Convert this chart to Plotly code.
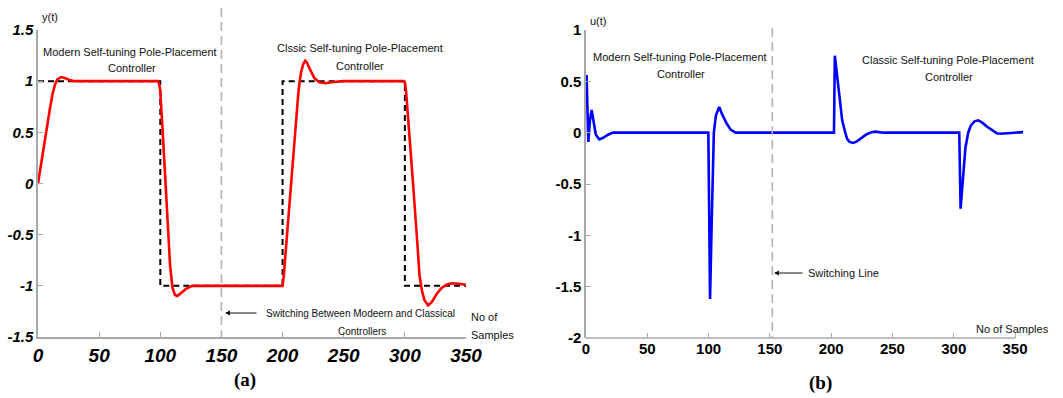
import plotly.graph_objects as go

W, H = 1063, 398

# ---------------- data ----------------
# reference signal r(t) (black dashed), panel (a)
REF_T = [0, 100, 100, 200, 200, 300, 300, 350]
REF_Y = [1, 1, -1, -1, 1, 1, -1, -1]

# plant output y(t) (red), panel (a)
Y_T = [0, 2, 4, 6, 8, 10, 12, 14, 16, 19, 22, 26, 30, 60, 98,
       99, 100, 102, 104, 106, 108, 110, 112, 114, 117, 121, 126, 130, 170, 200,
       201, 204, 207, 210, 213, 215, 217, 218.5, 220, 223, 226, 230, 235, 240, 250, 299,
       300, 301, 304, 307, 310, 312, 314, 316, 319, 322, 326, 330, 334, 338, 344, 350]
Y_V = [0, 0.15, 0.33, 0.47, 0.6, 0.75, 0.88, 0.97, 1.02, 1.04, 1.03, 1.01, 1.0, 1.0, 1.0,
       0.98, 0.9, 0.5, 0.05, -0.4, -0.8, -1.02, -1.09, -1.1, -1.07, -1.03, -1.0, -1.0, -1.0, -1.0,
       -0.9, -0.45, 0.0, 0.45, 0.9, 1.08, 1.17, 1.2, 1.18, 1.1, 1.03, 0.99, 0.98, 0.99, 1.0, 1.0,
       0.99, 0.9, 0.45, -0.05, -0.55, -0.9, -1.05, -1.14, -1.19, -1.16, -1.08, -1.02, -0.99, -0.975, -0.98, -0.99]

# control signal u(t) (blue), panel (b)
U_T = [0, 0.5, 1.9, 3.2, 4.6, 6, 8, 10.9, 14, 18, 22, 60, 99.8,
       100.5, 101.2, 102.5, 104.3, 106, 108.7, 111, 114.7, 118, 122, 160, 202.3,
       203, 205, 207, 209, 211.3, 213, 215, 218, 221, 225, 229, 233, 236, 243, 280, 304.5,
       305.6, 307.5, 309.5, 311.8, 314, 317, 320, 323, 327, 332, 335, 337.7, 343, 348, 352, 356.7]
U_V = [0.55, 0.55, -0.09, 0.12, 0.22, 0.12, -0.02, -0.065, -0.05, -0.02, 0.0, 0.0, 0.0,
       -0.8, -1.62, -0.9, 0.0, 0.17, 0.25, 0.18, 0.09, 0.03, 0.0, 0.0, 0.0,
       0.75, 0.55, 0.3, 0.12, 0.01, -0.06, -0.09, -0.10, -0.085, -0.05, -0.015, 0.005, 0.01, 0.0, 0.0, 0.0,
       -0.74, -0.45, -0.15, 0.0, 0.07, 0.11, 0.12, 0.1, 0.06, 0.02, -0.005, -0.01, -0.005, 0.0, 0.005, 0.005]

X_TICKS = [0, 50, 100, 150, 200, 250, 300, 350]
Y_TICKS_A = [-1.5, -1, -0.5, 0, 0.5, 1, 1.5]
Y_TICKTEXT_A = ["-1.5", "-1", "-0.5", "0", "0.5", "1", "1.5"]
Y_TICKS_B = [-2, -1.5, -1, -0.5, 0, 0.5, 1]
Y_TICKTEXT_B = ["-2", "-1.5", "-1", "-0.5", "0", "0.5", "1"]
SWITCH_A = 150
SWITCH_B = 152

# ---------------- layout helpers ----------------
def px(x):
    return x / W

def py(y):
    return 1 - y / H

AX_A = (38, 466, 337, 30)      # left, right, bottom, top (pixels)
AX_B = (586, 1023.6, 338, 30)
RANGE_A = [0, 350]
RANGE_B = [0, 357]

def data_to_px(v, ax, rng):
    return ax[0] + (v - rng[0]) / (rng[1] - rng[0]) * (ax[1] - ax[0])

SANS = "Liberation Sans, Arial, sans-serif"
SERIF = "Liberation Serif, Times New Roman, serif"
AXIS_GRAY = "#a8a8a8"

fig = go.Figure()
fig.add_trace(go.Scatter(x=REF_T, y=REF_Y, mode="lines", xaxis="x", yaxis="y",
                         line=dict(color="black", width=2, dash="6px,4px"), showlegend=False))
fig.add_trace(go.Scatter(x=Y_T, y=Y_V, mode="lines", xaxis="x", yaxis="y",
                         line=dict(color="#ff0000", width=2.6), showlegend=False))
fig.add_trace(go.Scatter(x=U_T, y=U_V, mode="lines", xaxis="x2", yaxis="y2",
                         line=dict(color="#0000ff", width=2.6), showlegend=False))

common = dict(showgrid=False, zeroline=False, ticks="inside", ticklen=5, tickwidth=1,
              tickcolor=AXIS_GRAY, linecolor=AXIS_GRAY, linewidth=1.5, automargin=False)

fig.update_layout(
    width=W, height=H,
    margin=dict(l=0, r=0, t=0, b=0),
    paper_bgcolor="white", plot_bgcolor="white",
    xaxis=dict(domain=[px(AX_A[0]), px(AX_A[1])], range=RANGE_A, anchor="y",
               tickvals=X_TICKS, showline=True,
               tickfont=dict(family=SANS, size=19, color="black", weight="bold", style="italic"),
               **common),
    yaxis=dict(domain=[py(AX_A[2]), py(AX_A[3])], range=[-1.5, 1.5], anchor="x",
               tickvals=Y_TICKS_A, ticktext=Y_TICKTEXT_A, showline=True,
               tickfont=dict(family=SANS, size=15, color="black", weight="bold", style="italic"),
               **common),
    xaxis2=dict(domain=[px(AX_B[0]), px(AX_B[1])], range=RANGE_B, anchor="y2",
                tickvals=X_TICKS, showline=False,
                tickfont=dict(family=SANS, size=15, color="black", weight="bold"),
                **common),
    yaxis2=dict(domain=[py(AX_B[2]), py(AX_B[3])], range=[-2, 1], anchor="x2",
                tickvals=Y_TICKS_B, ticktext=Y_TICKTEXT_B, showline=True,
                tickfont=dict(family=SANS, size=15, color="black", weight="bold"),
                **common),
)

# bottom axis line of panel (b), stops at 350
fig.add_shape(type="line", xref="x2", yref="paper", x0=0, x1=350,
              y0=py(AX_B[2]), y1=py(AX_B[2]), line=dict(color=AXIS_GRAY, width=1.5))

# switching lines
xa = data_to_px(SWITCH_A, AX_A, RANGE_A)
xb = data_to_px(SWITCH_B, AX_B, RANGE_B)
fig.add_shape(type="line", xref="paper", yref="paper", x0=px(xa), x1=px(xa),
              y0=py(8), y1=py(AX_A[2]), line=dict(color="#b4b4b4", width=1.6, dash="9px,5px"))
fig.add_shape(type="line", xref="paper", yref="paper", x0=px(xb), x1=px(xb),
              y0=py(28), y1=py(AX_B[2]), line=dict(color="#b4b4b4", width=1.6, dash="9px,5px"))

def text(t, x, y, size=11, family=SANS, xanchor="center", color="#111", bold=False):
    fig.add_annotation(text=t, x=px(x), y=py(y), xref="paper", yref="paper",
                       xanchor=xanchor, yanchor="middle", showarrow=False,
                       font=dict(family=family, size=size, color=color,
                                 weight="bold" if bold else "normal"))

def arrow(head_x, tail_x, y):
    fig.add_annotation(text="", x=px(head_x), y=py(y), xref="paper", yref="paper",
                       ax=tail_x - head_x, ay=0, showarrow=True, arrowhead=2, arrowsize=1,
                       arrowwidth=1, arrowcolor="#111", standoff=0, startstandoff=0)

# panel (a) texts
text("y(t)", 40, 17, xanchor="left")
text("Modern Self-tuning Pole-Placement", 130, 52)
text("Controller", 132, 68)
text("Clssic Self-tuning Pole-Placement", 360, 48)
text("Controller", 360, 66)
text("Switching Between Modeern and Classical", 360, 313, size=10)
text("Controllers", 362, 331, size=10)
arrow(225, 258, 313)
text("No of", 469, 317, xanchor="left")
text("Samples", 469, 335, xanchor="left")
text("(a)", 245, 380, size=19, family=SERIF, color="black", bold=True)

# panel (b) texts
text("u(t)", 588, 21, xanchor="left")
text("Modern Self-tuning Pole-Placement", 680, 57)
text("Controller", 681, 74)
text("Classic Self-tuning Pole-Placement", 948, 60)
text("Controller", 949, 77)
text("Switching Line", 806, 273, xanchor="left")
arrow(774, 804, 273)
text("No of Samples", 974, 329, xanchor="left")
text("(b)", 820, 383, size=19, family=SERIF, color="black", bold=True)

# the page body has a default 8px margin; remove it so the figure sits at the window origin
fig.write_html("out.html", config={"displayModeBar": False},
               post_script="document.body.style.margin='0';")
